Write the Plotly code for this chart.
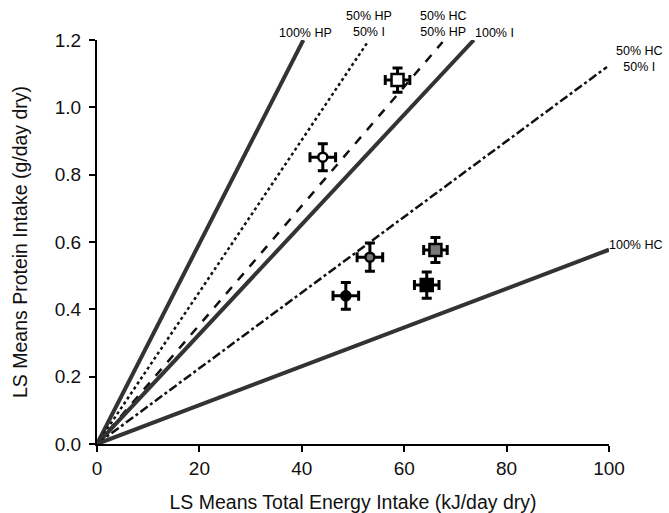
import plotly.graph_objects as go

# Reference lines from the origin (end points in data units)
line_names = ["100% HP", "50% HP 50% I", "50% HC 50% HP", "100% I", "50% HC 50% I", "100% HC"]
line_end_x = [40.3, 52.7, 67.5, 73.6, 99.6, 100.0]
line_end_y = [1.2, 1.19, 1.194, 1.2, 1.12, 0.577]
line_dash = ["solid", "dot", "dash", "solid", "dashdot", "solid"]
line_color = ["#333333", "#111111", "#111111", "#333333", "#111111", "#333333"]
line_width = [4, 2.5, 2.5, 4, 2.5, 4]

# Data points
pt_x = [44.1, 58.7, 53.3, 48.6, 66.1, 64.4]
pt_y = [0.852, 1.081, 0.555, 0.440, 0.576, 0.472]
pt_xerr = [2.5, 2.4, 2.5, 2.5, 2.3, 2.4]
pt_yerr = [0.040, 0.036, 0.042, 0.040, 0.037, 0.039]
pt_symbol = ["circle", "square", "circle", "circle", "square", "square"]
pt_fill = ["white", "white", "#777777", "black", "#777777", "black"]
pt_size = [9, 12, 9, 9, 12, 12]

# Line labels (paper coordinates)
lab_text = ["100% HP", "50% HP<br>50% I", "50% HC<br>50% HP", "100% I", "50% HC<br>50% I", "100% HC"]
lab_x = [0.4072, 0.5313, 0.6777, 0.7773, 1.0605, 0.998]
lab_y = [1.0173, 1.0384, 1.0384, 1.0173, 0.953, 0.4926]
lab_xanchor = ["center", "center", "center", "center", "center", "left"]

fig = go.Figure()
for i in range(len(line_names)):
    fig.add_trace(go.Scatter(
        x=[0, line_end_x[i]], y=[0, line_end_y[i]], mode="lines",
        line=dict(color=line_color[i], width=line_width[i], dash=line_dash[i]),
        showlegend=False, hoverinfo="skip", cliponaxis=False))

for i in range(len(pt_x)):
    fig.add_trace(go.Scatter(
        x=[pt_x[i]], y=[pt_y[i]], mode="markers",
        marker=dict(symbol=pt_symbol[i], size=pt_size[i], color=pt_fill[i],
                    line=dict(color="black", width=2.5)),
        error_x=dict(type="constant", value=pt_xerr[i], color="black", thickness=3, width=5),
        error_y=dict(type="constant", value=pt_yerr[i], color="black", thickness=3, width=5),
        showlegend=False, cliponaxis=False))

lab_font = dict(family="Liberation Sans, Arial, sans-serif", size=12.5, color="black")
for i in range(len(lab_text)):
    fig.add_annotation(xref="paper", yref="paper", x=lab_x[i], y=lab_y[i], text=lab_text[i],
                       showarrow=False, xanchor=lab_xanchor[i], yanchor="middle", align="center",
                       font=lab_font, borderpad=0)

axis_font = dict(family="Liberation Sans, Arial, sans-serif", size=19, color="#111111")
fig.update_layout(
    width=669, height=513,
    margin=dict(l=97, r=60, t=40, b=69),
    plot_bgcolor="white", paper_bgcolor="white",
    font=axis_font,
    xaxis=dict(range=[0, 100], tickvals=[0, 20, 40, 60, 80, 100], showgrid=False, zeroline=False,
               showline=True, linecolor="black", linewidth=2, ticks="outside", ticklen=6,
               tickwidth=2, tickcolor="black", automargin=False,
               title=dict(text="LS Means Total Energy Intake (kJ/day dry)", font=dict(size=19.5), standoff=19)),
    yaxis=dict(range=[0, 1.2], tickvals=[0, 0.2, 0.4, 0.6, 0.8, 1.0, 1.2], tickformat=".1f",
               showgrid=False, zeroline=False, showline=True, linecolor="black", linewidth=2,
               ticks="outside", ticklen=6, tickwidth=2, tickcolor="black", ticklabelstandoff=4,
               automargin=False,
               title=dict(text="LS Means Protein Intake (g/day dry)", font=dict(size=19.5), standoff=22)),
)
fig.write_html("out.html")
